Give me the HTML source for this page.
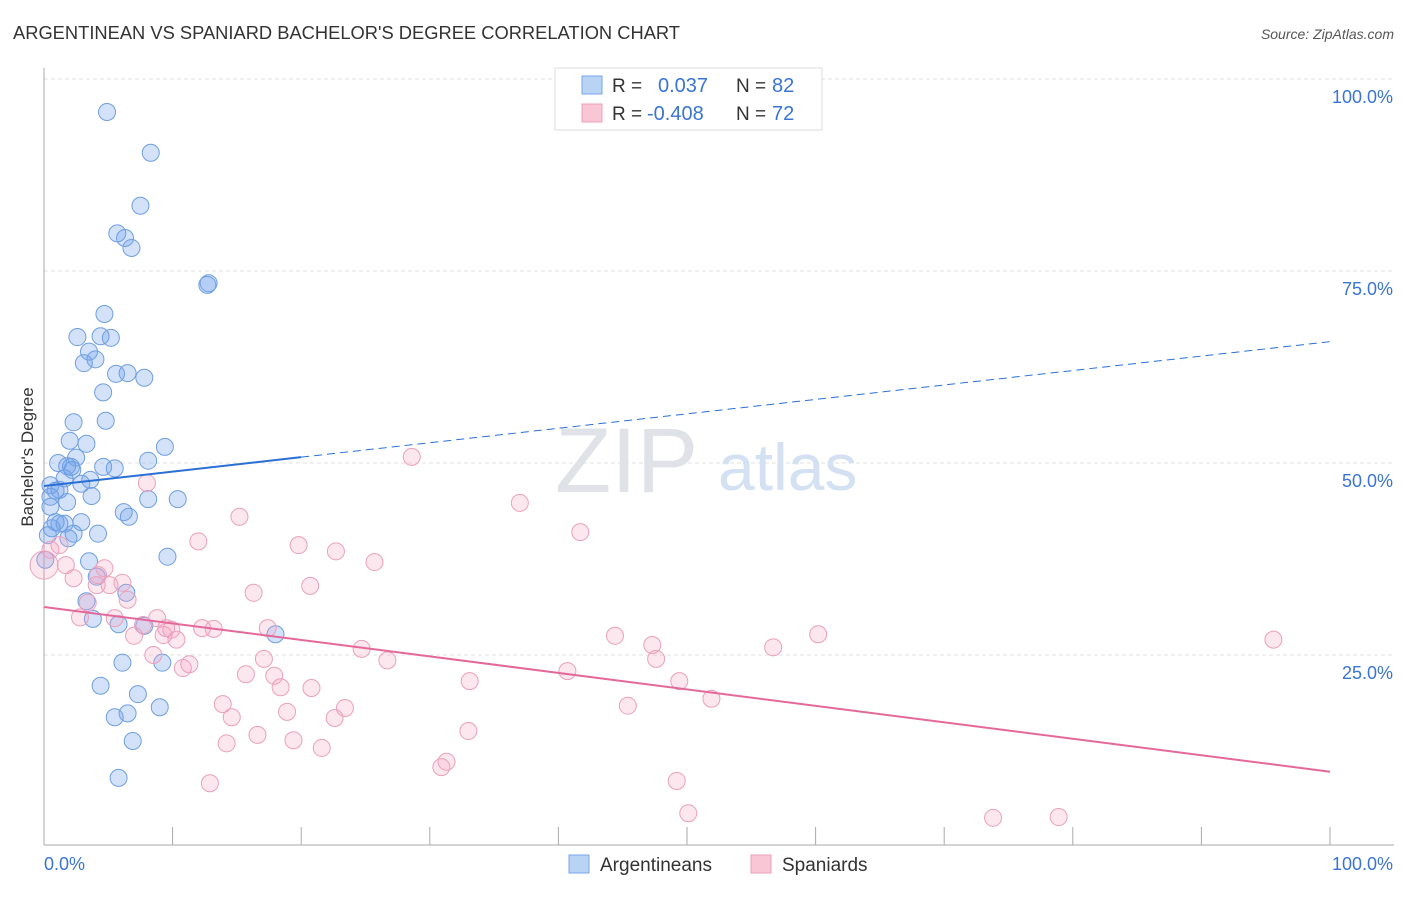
<!DOCTYPE html>
<html><head><meta charset="utf-8"><style>
body{margin:0;background:#fff;font-family:"Liberation Sans",sans-serif;}
svg text{font-family:"Liberation Sans",sans-serif;}
</style></head><body>
<svg id="chart" width="1406" height="892" xmlns="http://www.w3.org/2000/svg">
<text x="13" y="39" font-size="18" fill="#333" textLength="667" lengthAdjust="spacingAndGlyphs">ARGENTINEAN VS SPANIARD BACHELOR'S DEGREE CORRELATION CHART</text>
<text x="1394" y="39" font-size="14" fill="#555" text-anchor="end" font-style="italic">Source: ZipAtlas.com</text>
<g id="grid"></g>
<text x="555" y="492" font-size="92" fill="#dfe3e8" font-family="Liberation Serif,serif">ZIP</text>
<text x="718" y="490" font-size="66" fill="#d3e1f3">atlas</text>
<text transform="translate(33,457) rotate(-90)" font-size="17" fill="#333" text-anchor="middle">Bachelor's Degree</text>
<g id="marks"></g>
<g>
<rect x="555" y="68" width="267" height="62" fill="#fff" stroke="#ddd"/>
<rect x="582" y="76" width="20" height="18" fill="#b9d3f5" stroke="#7aa6e6"/>
<rect x="582" y="104" width="20" height="18" fill="#f9c6d6" stroke="#eba0ba"/>
<text x="612" y="92" font-size="19" fill="#333">R = </text><text x="658" y="92" font-size="20" fill="#3a74d4">0.037</text>
<text x="736" y="92" font-size="19" fill="#333">N = </text><text x="772" y="92" font-size="20" fill="#3a74d4">82</text>
<text x="612" y="120" font-size="19" fill="#333">R = </text><text x="647" y="120" font-size="20" fill="#3a74d4">-0.408</text>
<text x="736" y="120" font-size="19" fill="#333">N = </text><text x="772" y="120" font-size="20" fill="#3a74d4">72</text>
</g>
<g>
<rect x="569" y="855" width="20" height="18" fill="#b9d3f5" stroke="#7aa6e6"/>
<text x="600" y="871" font-size="19" fill="#333">Argentineans</text>
<rect x="751" y="855" width="20" height="18" fill="#f9c6d6" stroke="#eba0ba"/>
<text x="782" y="871" font-size="19" fill="#333">Spaniards</text>
</g>
</svg>
<script>
const yTicks=[0,25,50,75,100];
const yTickLabels=["","25.0%","50.0%","75.0%","100.0%"];
const xTicks=[0,10,20,30,40,50,60,70,80,90,100];
const blueX=[4.9,8.3,7.5,5.7,6.3,6.8,12.8,12.7,4.7,2.6,4.4,5.2,3.5,4.0,3.1,5.6,6.5,7.8,4.6,2.3,4.8,2.0,3.3,9.4,1.1,2.5,2.1,1.8,4.6,5.5,8.1,1.6,3.6,2.9,0.9,0.5,3.7,8.1,10.4,1.8,0.5,6.2,6.6,2.9,0.9,1.2,1.6,0.6,4.2,2.3,1.9,9.6,3.5,4.1,6.4,3.3,3.8,5.8,7.8,18.0,6.1,9.2,4.4,7.3,9.0,6.5,5.5,6.9,5.8,0.1,0.5,0.3,1.2,2.2];
const blueY=[95.7,90.4,83.5,79.9,79.3,78.0,73.4,73.2,69.4,66.4,66.5,66.3,64.5,63.5,63.0,61.6,61.7,61.1,59.2,55.3,55.5,52.9,52.5,52.1,50.0,50.7,49.5,49.6,49.5,49.3,50.3,48.0,47.8,47.3,46.4,45.6,45.7,45.3,45.3,44.9,44.3,43.6,43.0,42.3,42.3,42.1,42.1,41.5,40.8,40.8,40.2,37.8,37.2,35.2,33.1,32.0,29.7,29.0,28.8,27.7,24.0,24.0,21.0,19.9,18.2,17.4,16.9,13.8,9.0,37.4,47.1,40.6,46.5,49.1];
const pinkX=[0,0.5,1.2,1.7,2.3,2.8,3.4,4.1,4.7,5.1,4.2,6.1,6.5,5.5,7.0,7.7,8.0,8.5,8.8,9.3,9.5,9.9,10.3,10.8,11.3,12.0,12.3,13.2,13.9,14.2,14.6,12.9,15.2,15.7,16.3,16.6,17.1,17.4,17.9,18.4,18.9,19.4,19.8,20.7,20.8,21.6,22.6,22.7,23.4,24.7,25.7,26.7,28.6,30.9,31.3,33.0,33.1,37.0,40.7,41.7,44.4,45.4,47.3,47.6,49.4,49.2,50.1,51.9,56.7,60.2,73.8,78.9,95.6];
const pinkY=[36.7,38.7,39.3,36.7,35.0,29.9,31.8,34.1,36.3,34.1,35.4,34.4,32.2,29.8,27.5,28.9,47.4,25.0,29.8,27.6,28.5,28.3,27.0,23.3,23.8,39.8,28.5,28.4,18.6,13.5,16.9,8.3,43.0,22.5,33.1,14.6,24.5,28.5,22.3,20.8,17.6,13.9,39.3,34.0,20.7,12.9,16.8,38.5,18.1,25.8,37.1,24.3,50.8,10.4,11.1,15.1,21.6,44.8,22.9,41.0,27.5,18.4,26.3,24.5,21.6,8.6,4.4,19.3,26.0,27.7,3.8,3.9,27.0];
const blueTrend=[47.0,65.8];
const pinkTrend=[31.25,9.8];
const NS="http://www.w3.org/2000/svg";
const X=v=>44+v*12.86, Y=v=>847-v*7.68;
function mk(parent,tag,attrs){const e=document.createElementNS(NS,tag);for(const k in attrs)e.setAttribute(k,attrs[k]);parent.appendChild(e);return e;}
const grid=document.getElementById('grid'), marks=document.getElementById('marks');
yTicks.forEach((t,i)=>{
  if(t>0){const l=mk(grid,'line',{x1:44,x2:1394,y1:Y(t),y2:Y(t),stroke:'#e2e2e2','stroke-dasharray':'4,3'});
  
  
  const tx=mk(grid,'text',{x:1393,y:Y(t)+24,'font-size':18,fill:'#3a74d4','text-anchor':'end'});tx.textContent=yTickLabels[i];
  
  }
});
const ax=mk(grid,'line',{x1:44,x2:44,y1:68,y2:845,stroke:'#aaa'});


const bx=mk(grid,'line',{x1:44,x2:1394,y1:845,y2:845,stroke:'#aaa'});


xTicks.forEach(t=>{const l=mk(grid,'line',{x1:X(t),x2:X(t),y1:827,y2:845,stroke:'#aaa'});
  
  });
const x0=mk(grid,'text',{x:44,y:870,'font-size':18,fill:'#3a74d4'});x0.textContent='0.0%';


const x1=mk(grid,'text',{x:1393,y:870,'font-size':18,fill:'#3a74d4','text-anchor':'end'});x1.textContent='100.0%';


blueX.forEach((v,i)=>{const c=mk(marks,'circle',{cx:X(v),cy:Y(blueY[i]),r:8.5,fill:'rgba(110,160,235,0.3)',stroke:'#6f9fe0','stroke-width':1});
  
  });
pinkX.forEach((v,i)=>{const c=mk(marks,'circle',{cx:X(v),cy:Y(pinkY[i]),r:i===0?14:8.5,fill:'rgba(245,160,190,0.25)',stroke:'#eba0ba','stroke-width':1});
  
  });
const bs=(blueTrend[1]-blueTrend[0])/100;
const t1=mk(marks,'line',{x1:X(0),y1:Y(blueTrend[0]),x2:X(20),y2:Y(blueTrend[0]+bs*20),stroke:'#2a6fd6','stroke-width':2});


const t2=mk(marks,'line',{x1:X(20),y1:Y(blueTrend[0]+bs*20),x2:X(100),y2:Y(blueTrend[1]),stroke:'#2a6fd6','stroke-width':1,'stroke-dasharray':'8,5'});


const t3=mk(marks,'line',{x1:X(0),y1:Y(pinkTrend[0]),x2:X(100),y2:Y(pinkTrend[1]),stroke:'#e4699a','stroke-width':2});


</script>
</body></html>
